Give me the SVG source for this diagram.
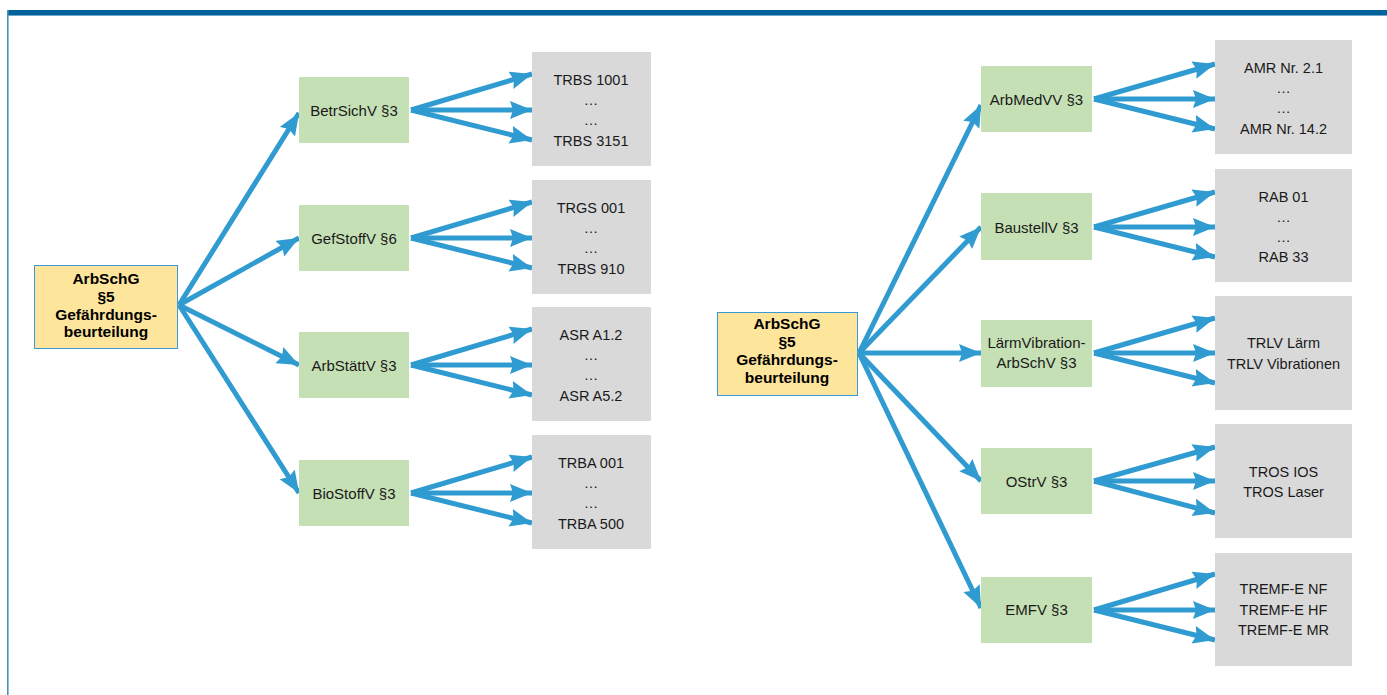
<svg xmlns="http://www.w3.org/2000/svg" width="1387" height="695" viewBox="0 0 1387 695">
<style>
text{font-family:"Liberation Sans",Arial,sans-serif;font-size:15px;fill:#1a1a1a;text-anchor:middle}
.b{font-weight:bold;fill:#000;font-size:15.5px}
.g{font-size:14.5px}
.main{fill:#fde59b;stroke:#3a9ad9;stroke-width:1}
.grn{fill:#c5e0b4}
.gry{fill:#d9d9d9}
.c line{stroke:#2f9bd0;stroke-width:5;marker-end:url(#ah)}
</style>
<defs>
<marker id="ah" markerUnits="userSpaceOnUse" markerWidth="24" markerHeight="20" refX="22" refY="9" orient="auto" viewBox="0 0 24 20">
<path d="M0,0 L22,9 L0,18 L3,9 z" fill="#2f9bd0"/>
</marker>
</defs>
<rect x="0" y="0" width="1387" height="695" fill="#fff"/>
<rect x="7" y="10" width="1380" height="5" fill="#00629a"/>
<rect x="7" y="15" width="1380" height="1" fill="#6fa8cf"/>
<rect x="7" y="10" width="1.6" height="685" fill="#4a92ba"/>

<g class="c" id="connectors">
<line x1="179" y1="305" x2="299" y2="113"/>
<line x1="179" y1="305" x2="299" y2="238"/>
<line x1="179" y1="305" x2="299" y2="365"/>
<line x1="179" y1="305" x2="299" y2="493"/>
<line x1="411" y1="110" x2="532" y2="74"/>
<line x1="411" y1="110" x2="532" y2="110"/>
<line x1="411" y1="110" x2="532" y2="140"/>
<line x1="411" y1="238" x2="532" y2="202"/>
<line x1="411" y1="238" x2="532" y2="238"/>
<line x1="411" y1="238" x2="532" y2="268"/>
<line x1="411" y1="365" x2="532" y2="329"/>
<line x1="411" y1="365" x2="532" y2="365"/>
<line x1="411" y1="365" x2="532" y2="395"/>
<line x1="411" y1="493" x2="532" y2="457"/>
<line x1="411" y1="493" x2="532" y2="493"/>
<line x1="411" y1="493" x2="532" y2="523"/>
<line x1="859" y1="353" x2="981" y2="105"/>
<line x1="859" y1="353" x2="981" y2="227"/>
<line x1="859" y1="353" x2="981" y2="353"/>
<line x1="859" y1="353" x2="981" y2="481"/>
<line x1="859" y1="353" x2="981" y2="608"/>
<line x1="1094" y1="99" x2="1215" y2="64"/>
<line x1="1094" y1="99" x2="1215" y2="99"/>
<line x1="1094" y1="99" x2="1215" y2="129"/>
<line x1="1094" y1="227" x2="1215" y2="192"/>
<line x1="1094" y1="227" x2="1215" y2="227"/>
<line x1="1094" y1="227" x2="1215" y2="257"/>
<line x1="1094" y1="353" x2="1215" y2="318"/>
<line x1="1094" y1="353" x2="1215" y2="353"/>
<line x1="1094" y1="353" x2="1215" y2="383"/>
<line x1="1094" y1="481" x2="1215" y2="447"/>
<line x1="1094" y1="481" x2="1215" y2="481"/>
<line x1="1094" y1="481" x2="1215" y2="513"/>
<line x1="1094" y1="610" x2="1215" y2="574"/>
<line x1="1094" y1="610" x2="1215" y2="610"/>
<line x1="1094" y1="610" x2="1215" y2="640"/>
</g>

<g id="main-left">
<rect class="main" x="34.5" y="265.5" width="143" height="83"/>
<text class="b" x="106" y="284">ArbSchG</text>
<text class="b" x="106" y="302">§5</text>
<text class="b" x="106" y="320">Gefährdungs-</text>
<text class="b" x="106" y="337">beurteilung</text>
</g>
<g id="main-right">
<rect class="main" x="717.5" y="312.5" width="140" height="83"/>
<text class="b" x="787" y="329">ArbSchG</text>
<text class="b" x="787" y="347">§5</text>
<text class="b" x="787" y="365">Gefährdungs-</text>
<text class="b" x="787" y="383">beurteilung</text>
</g>

<g id="betrsichv"><rect class="grn" x="299" y="77" width="110" height="66"/><text x="354" y="116">BetrSichV §3</text></g>
<g id="gefstoffv"><rect class="grn" x="299" y="205" width="110" height="66"/><text x="354" y="244">GefStoffV §6</text></g>
<g id="arbstaettv"><rect class="grn" x="299" y="332" width="110" height="66"/><text x="354" y="371">ArbStättV §3</text></g>
<g id="biostoffv"><rect class="grn" x="299" y="460" width="110" height="66"/><text x="354" y="499">BioStoffV §3</text></g>

<g id="trbs"><rect class="gry" x="532" y="52" width="119" height="114"/>
<text class="g" x="591" y="85">TRBS 1001</text><text class="g" x="591" y="105">…</text><text class="g" x="591" y="125">…</text><text class="g" x="591" y="146">TRBS 3151</text></g>
<g id="trgs"><rect class="gry" x="532" y="180" width="119" height="114"/>
<text class="g" x="591" y="213">TRGS 001</text><text class="g" x="591" y="233">…</text><text class="g" x="591" y="253">…</text><text class="g" x="591" y="274">TRBS 910</text></g>
<g id="asr"><rect class="gry" x="532" y="307" width="119" height="114"/>
<text class="g" x="591" y="340">ASR A1.2</text><text class="g" x="591" y="360">…</text><text class="g" x="591" y="380">…</text><text class="g" x="591" y="401">ASR A5.2</text></g>
<g id="trba"><rect class="gry" x="532" y="435" width="119" height="114"/>
<text class="g" x="591" y="468">TRBA 001</text><text class="g" x="591" y="488">…</text><text class="g" x="591" y="508">…</text><text class="g" x="591" y="529">TRBA 500</text></g>

<g id="arbmedvv"><rect class="grn" x="981" y="66" width="111" height="66"/><text x="1036.5" y="105">ArbMedVV §3</text></g>
<g id="baustellv"><rect class="grn" x="981" y="193" width="111" height="67"/><text x="1036.5" y="233">BaustellV §3</text></g>
<g id="laermvib"><rect class="grn" x="981" y="320" width="111" height="67"/><text x="1036.5" y="348">LärmVibration-</text><text x="1036.5" y="368">ArbSchV §3</text></g>
<g id="ostrv"><rect class="grn" x="981" y="448" width="111" height="66"/><text x="1036.5" y="487">OStrV §3</text></g>
<g id="emfv"><rect class="grn" x="981" y="577" width="111" height="66"/><text x="1036.5" y="615">EMFV §3</text></g>

<g id="amr"><rect class="gry" x="1215" y="40" width="137" height="114"/>
<text class="g" x="1283.5" y="73">AMR Nr. 2.1</text><text class="g" x="1283.5" y="93">…</text><text class="g" x="1283.5" y="113">…</text><text class="g" x="1283.5" y="134">AMR Nr. 14.2</text></g>
<g id="rab"><rect class="gry" x="1215" y="169" width="137" height="113"/>
<text class="g" x="1283.5" y="202">RAB 01</text><text class="g" x="1283.5" y="222">…</text><text class="g" x="1283.5" y="242">…</text><text class="g" x="1283.5" y="262">RAB 33</text></g>
<g id="trlv"><rect class="gry" x="1215" y="296" width="137" height="114"/>
<text class="g" x="1283.5" y="348">TRLV Lärm</text><text class="g" x="1283.5" y="369">TRLV Vibrationen</text></g>
<g id="tros"><rect class="gry" x="1215" y="424" width="137" height="114"/>
<text class="g" x="1283.5" y="477">TROS IOS</text><text class="g" x="1283.5" y="497">TROS Laser</text></g>
<g id="tremf"><rect class="gry" x="1215" y="553" width="137" height="113"/>
<text class="g" x="1283.5" y="594">TREMF-E NF</text><text class="g" x="1283.5" y="615">TREMF-E HF</text><text class="g" x="1283.5" y="635">TREMF-E MR</text></g>
</svg>
